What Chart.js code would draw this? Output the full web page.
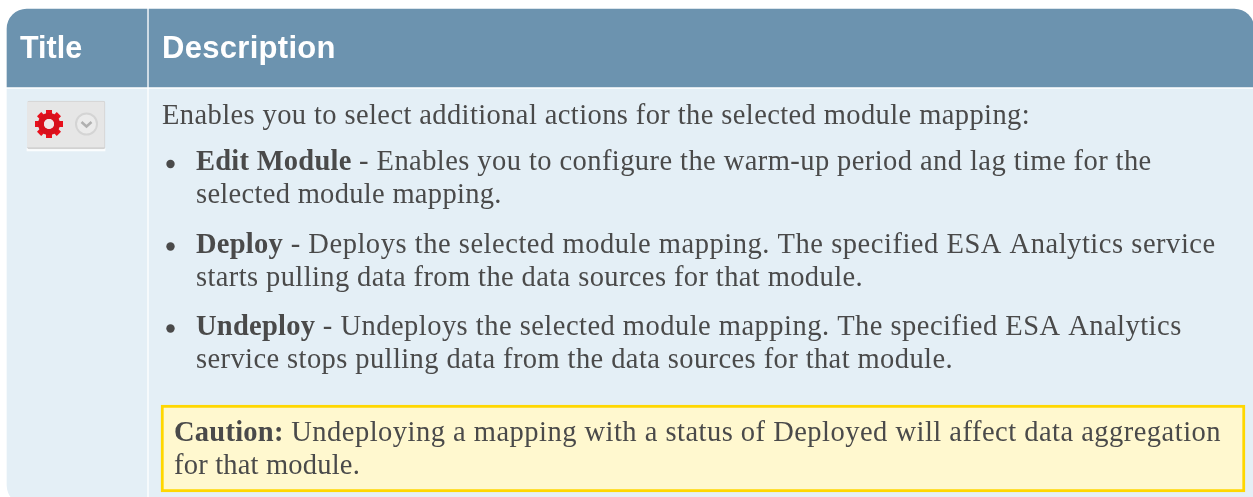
<!DOCTYPE html>
<html>
<head>
<meta charset="utf-8">
<style>
  html, body { margin: 0; padding: 0; background: #fff; overflow: hidden; }
  canvas { display: block; }
</style>
<script src="https://cdn.jsdelivr.net/npm/chart.js@4"></script>
</head>
<body>
<canvas id="table" width="1253" height="497"></canvas>
<script>
//// data: the picture is a documentation table, so its content is text
const columnTitles = ["Title", "Description"]
const introLine = "Enables you to select additional actions for the selected module mapping:"
const bulletHeads = ["Edit Module", "Deploy", "Undeploy"]
const bulletFirstLines = [
    " - Enables you to configure the warm-up period and lag time for the",
    " - Deploys the selected module mapping. The specified ESA Analytics service",
    " - Undeploys the selected module mapping. The specified ESA Analytics"
]
const bulletSecondLines = [
    "selected module mapping.",
    "starts pulling data from the data sources for that module.",
    "service stops pulling data from the data sources for that module."
]
const cautionHead = "Caution:"
const cautionLines = [
    " Undeploying a mapping with a status of Deployed will affect data aggregation",
    "for that module."
]

//// layout, in page pixels
const HEADER = '#6c93af', BODY = '#e4eff6', INK = '#4a4a4a'
const SERIF = '"Liberation Serif"', SANS = '"Liberation Sans"'
const bodySize = 28.5, headSpacing = 0.25
const firstBaselines = [170, 252.5, 334.5]
const firstLineEnds = [1151.7, 1215.7, 1181.7]
const secondLineEnds = [501.7, 863, 953]
const lineGap = 33

// a panel is a floating horizontal bar: x from left to right, y at its middle
function panel(left, right, top, bottom, fill, radius, extra) {
    return Object.assign({
        data: [{ x: [left, right], y: (top + bottom) / 2 }],
        barThickness: bottom - top,
        backgroundColor: fill,
        borderRadius: radius || 0,
        borderSkipped: false,
        grouped: false
    }, extra)
}

// first dataset is painted last, so the small panels come first
const panels = [
    panel(161, 1245, 405, 492, '#fff8cf', 0, { borderColor: '#ffd700', borderWidth: 3 }),
    panel(27, 105, 101, 149, '#e6e6e6', 2, { borderColor: '#d2d2d2', borderWidth: { top: 1, right: 1, bottom: 2 } }),
    panel(27, 105, 148, 151, '#fbfdfe'),
    panel(7, 147, 9, 87, HEADER, { topLeft: 20 }),
    panel(149, 1254, 9, 87, HEADER, { topRight: 20 }),
    panel(7, 147, 89, 505, BODY, { bottomLeft: 20 }),
    panel(149, 1254, 89, 505, BODY, 0)
]

function write(ctx, text, x, y, font, color, spacing) {
    ctx.font = font
    ctx.fillStyle = color
    ctx.letterSpacing = (spacing || 0) + 'px'
    ctx.fillText(text, x, y)
    return x + ctx.measureText(text).width
}

// same as write, but the letters are spaced so the line stops at endX
function writeTo(ctx, text, x, y, font, color, endX) {
    ctx.font = font
    ctx.letterSpacing = '0px'
    const spacing = (endX - x - ctx.measureText(text).width) / text.length
    return write(ctx, text, x, y, font, color, spacing)
}

function drawGear(ctx, cx, cy) {
    ctx.save()
    ctx.filter = 'blur(0.7px)'
    ctx.fillStyle = '#e8101c'
    for (let i = 0; i < 8; i++) {
        ctx.save()
        ctx.translate(cx, cy)
        ctx.rotate(i * Math.PI / 4)
        ctx.fillRect(-3, -14, 6, 8)
        ctx.restore()
    }
    ctx.beginPath()
    ctx.arc(cx, cy, 8, 0, Math.PI * 2)
    ctx.lineWidth = 6
    ctx.strokeStyle = '#d8101c'
    ctx.stroke()
    ctx.fillStyle = '#f0e8e8'
    ctx.beginPath()
    ctx.arc(cx, cy, 5, 0, Math.PI * 2)
    ctx.fill()
    ctx.restore()
}

function drawChevron(ctx, cx, cy) {
    ctx.save()
    ctx.filter = 'blur(0.4px)'
    ctx.fillStyle = '#ebebeb'
    ctx.strokeStyle = '#d4d4d4'
    ctx.lineWidth = 2
    ctx.beginPath()
    ctx.arc(cx, cy, 10.5, 0, Math.PI * 2)
    ctx.fill()
    ctx.stroke()
    ctx.strokeStyle = '#b0b0b0'
    ctx.lineWidth = 2.5
    ctx.beginPath()
    ctx.moveTo(cx - 5, cy - 2)
    ctx.lineTo(cx, cy + 2.5)
    ctx.lineTo(cx + 5, cy - 2)
    ctx.stroke()
    ctx.restore()
}

const tableText = {
    id: 'tableText',
    afterDatasetsDraw(chart) {
        const ctx = chart.ctx
        const regular = bodySize + 'px ' + SERIF
        const bold = 'bold ' + bodySize + 'px ' + SERIF
        ctx.save()
        ctx.textBaseline = 'alphabetic'

        write(ctx, columnTitles[0], 20, 58, 'bold 30.5px ' + SANS, '#fff')
        write(ctx, columnTitles[1], 162, 58, 'bold 31px ' + SANS, '#fff', 0.3)

        drawGear(ctx, 49, 124)
        drawChevron(ctx, 86.5, 124)

        writeTo(ctx, introLine, 162, 124, regular, INK, 1030)

        bulletHeads.forEach((head, i) => {
            const y = firstBaselines[i]
            ctx.fillStyle = INK
            ctx.beginPath()
            ctx.arc(170.5, y - 6, 4.2, 0, Math.PI * 2)
            ctx.fill()
            const end = write(ctx, head, 196, y, bold, INK, headSpacing)
            writeTo(ctx, bulletFirstLines[i], end, y, regular, INK, firstLineEnds[i])
            writeTo(ctx, bulletSecondLines[i], 196, y + lineGap, regular, INK, secondLineEnds[i])
        })

        const end = write(ctx, cautionHead, 174, 441, bold, INK, headSpacing)
        writeTo(ctx, cautionLines[0], end, 441, regular, INK, 1221)
        writeTo(ctx, cautionLines[1], 174, 474, regular, INK, 360)
        ctx.restore()
    }
}

//// chart
new Chart(document.querySelector("#table"), {
    type: 'bar',
    data: { datasets: panels },
    plugins: [tableText],
    options: {
        indexAxis: 'y',
        responsive: false,
        animation: false,
        layout: { padding: 0 },
        scales: {
            x: { type: 'linear', min: 0, max: 1253, display: false },
            y: { type: 'linear', min: 0, max: 497, reverse: true, display: false, offset: false }
        },
        plugins: { legend: { display: false }, tooltip: { enabled: false }, title: { display: false } }
    }
})
</script>
</body>
</html>
